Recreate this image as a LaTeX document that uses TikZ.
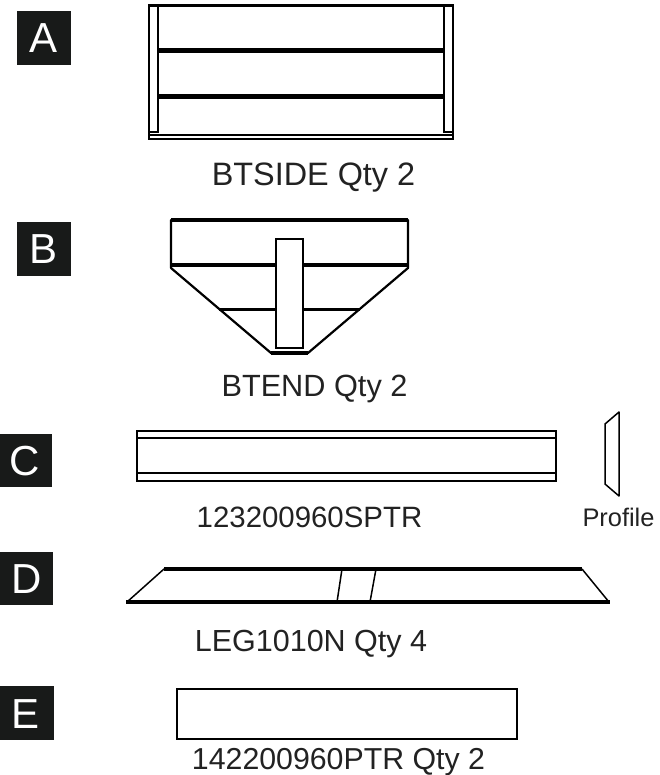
\documentclass[tikz,border=0pt]{standalone}
\usepackage{fontspec}
\setmainfont{Liberation Sans}
\definecolor{boxblack}{HTML}{181A19}
\definecolor{inktext}{HTML}{222222}
\tikzset{
  tagtext/.style={text=white,inner sep=0pt,anchor=base,font=\fontsize{42}{42}\selectfont},
  captext/.style={inner sep=0pt,anchor=base,text=inktext},
  linea/.style={draw=black,line width=1.5pt},
  lineb/.style={draw=black,line width=2.2pt},
  linec/.style={draw=black,line width=3.3pt},
  lined/.style={draw=black,line width=4.7pt}
}
\begin{document}
\begin{tikzpicture}[x=1pt,y=-1pt]
\useasboundingbox (0,0) rectangle (659,775);
\fill[boxblack] (17,11) rectangle (71,65);
\fill[boxblack] (17,222) rectangle (71,276);
\fill[boxblack] (0,434) rectangle (52,487);
\fill[boxblack] (0,552) rectangle (53,605);
\fill[boxblack] (0,686) rectangle (54,740);
\node[tagtext] (A) at (43.5,53) {A};
\node[tagtext] (B) at (44,264) {B};
\node[tagtext] (C) at (25,475) {C};
\node[tagtext] (D) at (27,593) {D};
\node[tagtext] (E) at (26,728) {E};
% A
\draw[lineb] (149,5) -- (149,139) -- (453,139) -- (453,5);
\draw[lineb] (158,5) -- (158,132) -- (149,132);
\draw[lineb] (444,5) -- (444,132) -- (453,132);
\draw[linec] (148,5.5) -- (454,5.5);
\draw[lined] (158,50.5) -- (444,50.5);
\draw[lined] (158,96.5) -- (444,96.5);
\draw[lineb] (149,135) -- (453,135);
\node[captext,font=\fontsize{32.4}{32}\selectfont] (ta) at (313.5,186) {BTSIDE Qty 2};
% B
\draw[lined] (171,265) -- (408,265);
\draw[linec] (219,309.5) -- (360,309.5);
\draw[lineb,line join=round] (171,265) -- (171,220) -- (408,220) -- (408,268) -- (308,353) -- (271,353) -- (171,268) -- cycle;
\draw[linec] (171,220) -- (408,220);
\draw[linec] (271,353) -- (308,353);
\draw[lineb,fill=white] (276,239) rectangle (303,348);
\node[captext,font=\fontsize{30.7}{31}\selectfont] (tb) at (314.5,396) {BTEND Qty 2};
% C
\draw[lineb] (137,431) rectangle (556,481);
\draw[lineb] (137,438) -- (556,438);
\draw[lineb] (137,473) -- (556,473);
\draw[linea,line join=round] (605,424) -- (619,412) -- (619,496) -- (605,484) -- cycle;
\node[captext,font=\fontsize{29.4}{30}\selectfont] (tc) at (309.5,527) {123200960SPTR};
\node[captext,font=\fontsize{25.4}{26}\selectfont] (tp) at (618.5,526) {Profile};
% D
\draw[linec] (164,569) -- (582,569);
\draw[linec] (126,602) -- (610,602);
\draw[linea] (127,602) -- (164,569);
\draw[linea] (582,569) -- (609,602);
\draw[linea] (337,602) -- (342,569);
\draw[linea] (364+6,602) -- (376,569);
\node[captext,font=\fontsize{30.5}{31}\selectfont] (td) at (311,651) {LEG1010N Qty 4};
% E
\draw[lineb,line width=2.6pt] (177,689) rectangle (517,739);
\node[captext,font=\fontsize{30.3}{31}\selectfont] (te) at (338.5,769) {142200960PTR Qty 2};
\end{tikzpicture}
\end{document}
